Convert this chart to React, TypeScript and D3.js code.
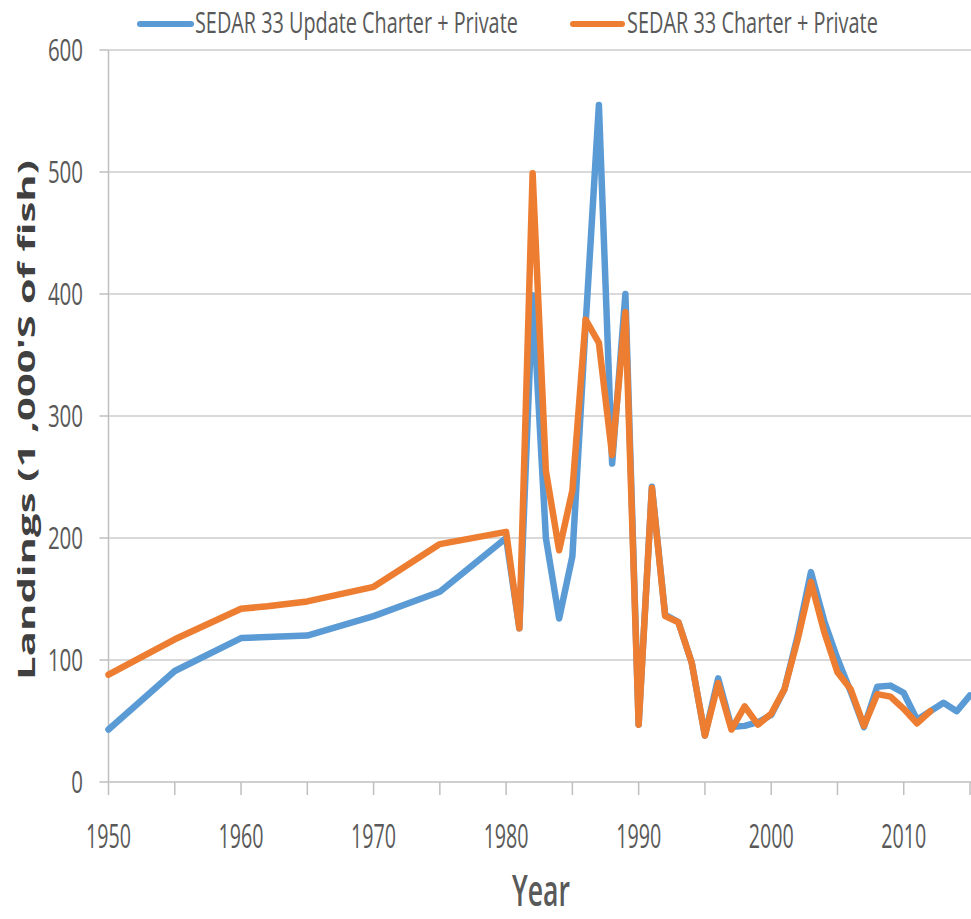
import React, { useLayoutEffect, useRef, useState } from "react";
import * as d3 from "d3";

// SEDAR 33 Update Charter + Private
const updateYears = [
  1950, 1955, 1960, 1965, 1970, 1975,
  1980, 1981, 1982, 1983, 1984, 1985, 1986, 1987, 1988, 1989,
  1990, 1991, 1992, 1993, 1994, 1995, 1996, 1997, 1998, 1999,
  2000, 2001, 2002, 2003, 2004, 2005, 2006, 2007, 2008, 2009,
  2010, 2011, 2012, 2013, 2014, 2015,
];
const updateValues = [
  43, 91, 118, 120, 136, 156,
  200, 126, 399, 200, 134, 185, 375, 555, 261, 400,
  47, 242, 137, 131, 98, 38, 85, 45, 46, 49,
  55, 76, 120, 172, 132, 101, 74, 45, 78, 79,
  73, 51, 58, 65, 58, 71,
];

// SEDAR 33 Charter + Private
const sedarYears = [
  1950, 1955, 1960, 1962, 1965, 1970, 1972, 1975,
  1980, 1981, 1982, 1983, 1984, 1985, 1986, 1987, 1988, 1989,
  1990, 1991, 1992, 1993, 1994, 1995, 1996, 1997, 1998, 1999,
  2000, 2001, 2002, 2003, 2004, 2005, 2006, 2007, 2008, 2009,
  2010, 2011, 2012,
];
const sedarValues = [
  88, 117, 142, 144, 148, 160, 174, 195,
  205, 126, 499, 255, 190, 239, 379, 360, 268, 385,
  47, 241, 136, 131, 98, 38, 81, 43, 62, 47,
  56, 76, 117, 164, 123, 90, 76, 46, 72, 70,
  60, 48, 58,
];

const yTicks = [0, 100, 200, 300, 400, 500, 600];
const xMinorTicks = d3.range(1950, 2016, 5);
const xLabels = [1950, 1960, 1970, 1980, 1990, 2000, 2010];

const seriesNames = ["SEDAR 33 Update Charter + Private", "SEDAR 33 Charter + Private"];
const colors = ["#5b9bd5", "#ed7d31"];

const W = 971;
const H = 919;
const textColor = "#595959";
const font = "'Open Sans', 'Liberation Sans', sans-serif";

// text squeezed horizontally to a target width (the source chart is condensed)
function FitText({ x, y, width, anchor = "start", rotate = 0, children, ...rest }: any) {
  const ref = useRef<SVGTextElement>(null);
  const [sx, setSx] = useState(1);
  useLayoutEffect(() => {
    if (!ref.current) return;
    const natural = ref.current.getComputedTextLength();
    if (natural > 0) setSx(width / natural);
  }, [width, children]);
  return (
    <text ref={ref} textAnchor={anchor}
      transform={`translate(${x},${y}) rotate(${rotate}) scale(${sx},1)`} {...rest}>
      {children}
    </text>
  );
}

export default function App() {
  const x = d3.scaleLinear().domain([1950, 2015]).range([108.5, 970]);
  const y = d3.scaleLinear().domain([0, 600]).range([782, 50]);

  const line = d3.line<[number, number]>()
    .x(d => x(d[0]))
    .y(d => y(d[1]));

  const updateData = updateYears.map((yr, i) => [yr, updateValues[i]] as [number, number]);
  const sedarData = sedarYears.map((yr, i) => [yr, sedarValues[i]] as [number, number]);

  return (
    <svg width={W} height={H} style={{ position: "absolute", left: 0, top: 0, background: "#fff" }}>
      {/* gridlines */}
      {yTicks.filter(t => t > 0).map(t => (
        <line key={"g" + t} x1={x(1950)} x2={W} y1={y(t)} y2={y(t)} stroke="#d9d9d9" strokeWidth={2} />
      ))}
      {/* y axis */}
      <line x1={x(1950)} x2={x(1950)} y1={y(600)} y2={y(0)} stroke="#bfbfbf" strokeWidth={1.5} />
      {yTicks.map(t => (
        <g key={"y" + t}>
          <line x1={x(1950) - 9} x2={x(1950)} y1={y(t)} y2={y(t)} stroke="#bfbfbf" strokeWidth={1.5} />
          <FitText x={83} y={y(t) + 11} anchor="end" width={String(t).length * 11.7}
            fontFamily={font} fontSize={31} fill={textColor}>{t}</FitText>
        </g>
      ))}
      {/* x axis */}
      <line x1={x(1950)} x2={W} y1={y(0)} y2={y(0)} stroke="#bfbfbf" strokeWidth={1.5} />
      {xMinorTicks.map(t => (
        <line key={"xt" + t} x1={x(t)} x2={x(t)} y1={y(0)} y2={y(0) + 13} stroke="#bfbfbf" strokeWidth={1.5} />
      ))}
      {xLabels.map(t => (
        <FitText key={"xl" + t} x={x(t)} y={848} anchor="middle" width={45}
          fontFamily={font} fontSize={32} fill={textColor}>{t}</FitText>
      ))}
      {/* series */}
      <path d={line(updateData) ?? ""} fill="none" stroke={colors[0]} strokeWidth={6.5}
        strokeLinejoin="round" strokeLinecap="round" />
      <path d={line(sedarData) ?? ""} fill="none" stroke={colors[1]} strokeWidth={6.5}
        strokeLinejoin="round" strokeLinecap="round" />
      {/* axis titles */}
      <FitText x={541} y={906} anchor="middle" width={58}
        fontFamily={font} fontSize={43} fontWeight={600} fill={textColor}>Year</FitText>
      <FitText x={35} y={420} rotate={-90} anchor="middle" width={520}
        fontFamily={font} fontSize={24} fontWeight="bold" fill="#404040">
        Landings (1 ,000'S of fish)
      </FitText>
      {/* legend */}
      <line x1={140} x2={191} y1={24} y2={24} stroke={colors[0]} strokeWidth={6} strokeLinecap="round" />
      <FitText x={195} y={33} width={323} fontFamily={font} fontSize={29} fill={textColor}>
        {seriesNames[0]}
      </FitText>
      <line x1={573} x2={622} y1={24} y2={24} stroke={colors[1]} strokeWidth={6} strokeLinecap="round" />
      <FitText x={627} y={33} width={251} fontFamily={font} fontSize={29} fill={textColor}>
        {seriesNames[1]}
      </FitText>
    </svg>
  );
}
